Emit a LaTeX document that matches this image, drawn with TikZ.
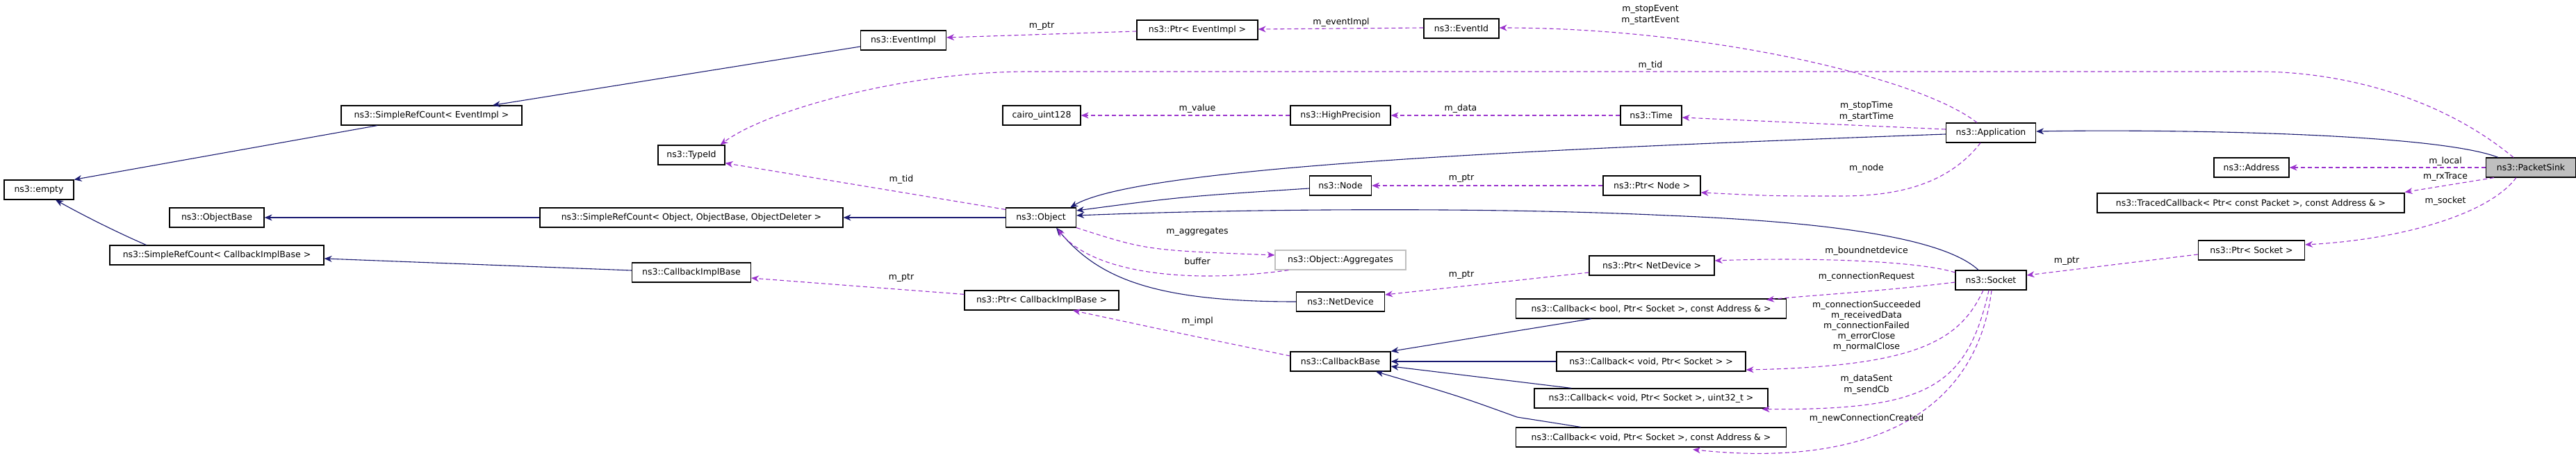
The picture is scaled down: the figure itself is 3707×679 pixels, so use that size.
\documentclass[tikz,border=0pt]{standalone}
\usepackage{fontspec}
\setmainfont{DejaVu Sans}
\usetikzlibrary{arrows.meta,calc}
\definecolor{inhc}{HTML}{191970}
\definecolor{depc}{HTML}{9A32CD}
\begin{document}
\begin{tikzpicture}[x=1pt,y=-1pt,
  box/.style={draw=black,line width=1.2pt,fill=white,minimum height=28pt,inner sep=0pt,font=\fontsize{12.5}{14}\selectfont},
  lab/.style={font=\fontsize{12.5}{14}\selectfont,inner sep=0pt},
  inh/.style={draw=inhc,line width=1.1pt,-{Stealth[length=11pt,width=9pt]}},
  dep/.style={draw=depc,line width=1.1pt,dash pattern=on 6pt off 4pt,-{Stealth[length=11pt,width=9pt]}}]
\useasboundingbox (0,0) rectangle (3707,679);
% nodes
\node[box,minimum width=100] (empty) at (56,273) {ns3::empty};
\node[box,minimum width=260] (srcev) at (621,166) {ns3::SimpleRefCount< EventImpl >};
\node[box,minimum width=96] (typeid) at (995,223) {ns3::TypeId};
\node[box,minimum width=136] (objbase) at (312,313) {ns3::ObjectBase};
\node[box,minimum width=436] (srcobj) at (995,313) {ns3::SimpleRefCount< Object, ObjectBase, ObjectDeleter >};
\node[box,minimum width=308] (srccb) at (312,367) {ns3::SimpleRefCount< CallbackImplBase >};
\node[box,minimum width=171] (cbimpl) at (995,392) {ns3::CallbackImplBase};
\node[box,minimum width=123] (evimpl) at (1300,58) {ns3::EventImpl};
\node[box,minimum width=174] (ptrev) at (1723,43) {ns3::Ptr< EventImpl >};
\node[box,minimum width=108] (eventid) at (2103,41) {ns3::EventId};
\node[box,minimum width=112] (cairo) at (1499,166) {cairo\_uint128};
\node[box,minimum width=144] (hp) at (1929,166) {ns3::HighPrecision};
\node[box,minimum width=88] (time) at (2376,166) {ns3::Time};
\node[box,minimum width=101] (object) at (1498,313) {ns3::Object};
\node[box,minimum width=89] (node) at (1929,267) {ns3::Node};
\node[box,minimum width=140] (ptrnode) at (2377,267) {ns3::Ptr< Node >};
\node[box,draw=black!25,minimum width=188] (agg) at (1929,374) {ns3::Object::Aggregates};
\node[box,minimum width=180] (ptrnd) at (2377,382) {ns3::Ptr< NetDevice >};
\node[box,minimum width=127] (netdev) at (1929,434) {ns3::NetDevice};
\node[box,minimum width=222] (ptrcbi) at (1499,432) {ns3::Ptr< CallbackImplBase >};
\node[box,minimum width=389] (cbbool) at (2376,444) {ns3::Callback< bool, Ptr< Socket >, const Address \& >};
\node[box,minimum width=144] (cbbase) at (1929,520) {ns3::CallbackBase};
\node[box,minimum width=272] (cbvoid) at (2376,520) {ns3::Callback< void, Ptr< Socket > >};
\node[box,minimum width=336] (cbuint) at (2376,573) {ns3::Callback< void, Ptr< Socket >, uint32\_t >};
\node[box,minimum width=389] (cbaddr) at (2376,629) {ns3::Callback< void, Ptr< Socket >, const Address \& >};
\node[box,minimum width=129] (app) at (2865,191) {ns3::Application};
\node[box,fill=black!25,minimum width=129] (sink) at (3642,241) {ns3::PacketSink};
\node[box,minimum width=108] (address) at (3240,241) {ns3::Address};
\node[box,minimum width=442] (traced) at (3239,292) {ns3::TracedCallback< Ptr< const Packet >, const Address \& >};
\node[box,minimum width=153] (ptrsock) at (3240,360) {ns3::Ptr< Socket >};
\node[box,minimum width=102] (socket) at (2865,403) {ns3::Socket};
% inheritance
\draw[inh] ($(evimpl.west)+(0,9)$) -- ($(srcev.north)+(88,0)$);
\draw[inh] ($(srcev.south)+(-78,0)$) -- (empty.north east);
\draw[inh] ($(srccb.north west)+(53,0)$) .. controls (170,335) and (120,310) .. ($(empty.south)+(24,0)$);
\draw[inh] ($(cbimpl.west)+(0,-3)$) -- ($(srccb.east)+(0,5)$);
\draw[inh] (srcobj.west) -- (objbase.east);
\draw[inh] (object.west) -- (srcobj.east);
\draw[inh] ($(app.west)+(0,2)$) .. controls (2200,215) and (1640,240) .. ($(object.north east)+(-9,0)$);
\draw[inh] ($(node.west)+(0,4)$) .. controls (1700,283) .. ($(object.east)+(0,-10)$);
\draw[inh] ($(socket.north)+(-18,0)$) .. controls (2800,345) and (2650,320) .. (2400,310) .. controls (2150,298) and (1800,300) .. ($(object.east)+(0,-3)$);
\draw[inh] (netdev.west) .. controls (1660,434) and (1580,400) .. ($(object.south)+(22,0)$);
\draw[inh] ($(sink.north west)+(18,0)$) .. controls (3500,190) and (3100,186) .. ($(app.east)+(0,-2)$);
\draw[inh] ($(cbbool.south west)+(109,0)$) -- (cbbase.north east);
\draw[inh] (cbvoid.west) -- (cbbase.east);
\draw[inh] ($(cbuint.north west)+(54,0)$) -- ($(cbbase.east)+(0,7)$);
\draw[inh] ($(cbaddr.north west)+(94,0)$) -- (2183,600) .. controls (2100,570) .. ($(cbbase.south)+(51,0)$);
% usage
\draw[dep] ($(ptrev.west)+(0,2)$) -- ($(evimpl.east)+(0,-4)$);
\draw[dep] ($(eventid.west)+(0,-1)$) -- ($(ptrev.east)+(0,-1)$);
\draw[dep] ($(app.north)+(-20,0)$) .. controls (2760,110) and (2450,40) .. ($(eventid.east)+(0,-1)$);
\draw[dep] ($(sink.north west)+(40,0)$) .. controls (3500,130) and (3350,103) .. (3250,103) -- (1480,103) .. controls (1300,103) and (1100,160) .. ($(typeid.north east)+(-7,0)$);
\draw[dep] (hp.west) -- (cairo.east);
\draw[dep] (time.west) -- (hp.east);
\draw[dep] ($(app.west)+(0,-5)$) -- ($(time.east)+(0,3)$);
\draw[dep] ($(object.north west)+(0,3)$) -- ($(typeid.south east)+(0,-3)$);
\draw[dep] ($(app.south)+(-15,0)$) .. controls (2800,270) and (2720,282) .. (2650,282) .. controls (2550,282) .. ($(ptrnode.east)+(0,10)$);
\draw[dep] (ptrnode.west) -- (node.east);
\draw[dep] (object.south east) .. controls (1650,360) .. ($(agg.west)+(0,-7)$);
\draw[dep] ($(agg.south west)+(20,0)$) .. controls (1700,410) and (1570,390) .. ($(object.south)+(24,2)$);
\draw[dep] ($(ptrnd.west)+(0,10)$) -- ($(netdev.east)+(0,-10)$);
\draw[dep] ($(socket.west)+(0,-11)$) .. controls (2760,375) and (2600,370) .. ($(ptrnd.east)+(0,-7)$);
\draw[dep] ($(socket.west)+(0,3)$) .. controls (2700,420) and (2600,425) .. ($(cbbool.north east)+(-29,2)$);
\draw[dep] ($(socket.south)+(-11,0)$) .. controls (2820,490) and (2760,527) .. ($(cbvoid.east)+(0,12)$);
\draw[dep] ($(socket.south)+(-3,0)$) .. controls (2830,560) and (2770,590) .. ($(cbuint.south east)+(-9,1)$);
\draw[dep] ($(socket.south)+(1,0)$) .. controls (2840,620) and (2650,670) .. ($(cbaddr.south)+(60,3)$);
\draw[dep] ($(ptrcbi.north west)+(0,6)$) -- ($(cbimpl.east)+(0,8)$);
\draw[dep] ($(cbbase.west)+(0,-8)$) .. controls (1700,480) .. ($(ptrcbi.south)+(45,0)$);
\draw[dep] (sink.west) -- (address.east);
\draw[dep] ($(sink.south west)+(12,0)$) -- ($(traced.north east)+(0,-1)$);
\draw[dep] ($(sink.south west)+(44,0)$) .. controls (3580,310) and (3450,345) .. ($(ptrsock.east)+(0,-8)$);
\draw[dep] ($(ptrsock.west)+(0,6)$) -- ($(socket.east)+(0,-7)$);
% labels
\node[lab] (l1) at (1499,38) {m\_ptr};
\node[lab] (l2) at (1930,32) {m\_eventImpl};
\node[lab,align=center] (l3) at (2375,21) {m\_stopEvent\\[2pt]m\_startEvent};
\node[lab] (l4) at (2375,94) {m\_tid};
\node[lab] (l5) at (1723,156) {m\_value};
\node[lab] (l6) at (2102,156) {m\_data};
\node[lab] (l7) at (1297,258) {m\_tid};
\node[lab] (l8) at (1297,400) {m\_ptr};
\node[lab] (l9) at (2103,257) {m\_ptr};
\node[lab] (l10) at (1723,334) {m\_aggregates};
\node[lab] (l11) at (1723,376) {buffer};
\node[lab] (l12) at (2103,396) {m\_ptr};
\node[lab] (l13) at (1723,462) {m\_impl};
\node[lab,align=center] (l14) at (2686,160) {m\_stopTime\\[2pt]m\_startTime};
\node[lab] (l15) at (2686,242) {m\_node};
\node[lab] (l16) at (3519,232) {m\_local};
\node[lab] (l17) at (3519,254) {m\_rxTrace};
\node[lab] (l18) at (3519,289) {m\_socket};
\node[lab] (l19) at (2974,376) {m\_ptr};
\node[lab] (l20) at (2686,361) {m\_boundnetdevice};
\node[lab] (l21) at (2686,398) {m\_connectionRequest};
\node[lab,align=center] (l22) at (2686,469) {m\_connectionSucceeded\\[1pt]m\_receivedData\\[1pt]m\_connectionFailed\\[1pt]m\_errorClose\\[1pt]m\_normalClose};
\node[lab,align=center] (l23) at (2686,553) {m\_dataSent\\[2pt]m\_sendCb};
\node[lab] (l24) at (2686,602) {m\_newConnectionCreated};
\end{tikzpicture}
\end{document}
